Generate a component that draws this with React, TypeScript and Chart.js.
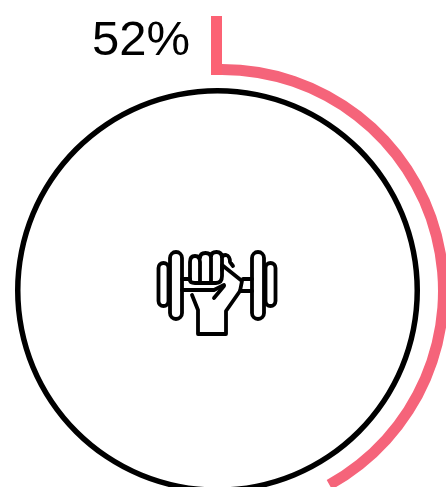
import { useEffect, useRef } from "react";
import { Chart, registerables } from "chart.js";

Chart.register(...registerables);

const progressLabel = "52%";
const progressValues = [52, 48];
const ringValues = [100];
const pink = "#F5647A";
const stubPink = "#FC6274";

const stubPlugin = {
  id: "stub",
  afterDatasetsDraw(chart: any) {
    const arc = chart.getDatasetMeta(0).data[0];
    if (!arc) return;
    const { ctx } = chart;
    ctx.save();
    ctx.fillStyle = stubPink;
    ctx.fillRect(arc.x - 11, 16, 11, arc.y - arc.innerRadius - 16);
    ctx.restore();
  },
};

export default function App() {
  const arcRef = useRef<HTMLCanvasElement>(null);
  const ringRef = useRef<HTMLCanvasElement>(null);
  useEffect(() => {
    const arcChart = new Chart(arcRef.current!, {
      type: "doughnut",
      data: {
        labels: ["Progress", "Remaining"],
        datasets: [
          {
            data: progressValues,
            backgroundColor: [pink, "rgba(0,0,0,0)"],
            borderWidth: 0,
          },
        ],
      } as any,
      options: {
        responsive: false,
        animation: false,
        circumference: 290.4,
        cutout: `${(216 / 227) * 100}%`,
        plugins: { legend: { display: false }, tooltip: { enabled: false } },
      } as any,
      plugins: [stubPlugin],
    });
    const ringChart = new Chart(ringRef.current!, {
      type: "doughnut",
      data: {
        labels: ["Ring"],
        datasets: [{ data: ringValues, backgroundColor: ["#000000"], borderWidth: 0 }],
      } as any,
      options: {
        responsive: false,
        animation: false,
        cutout: `${(197 / 202.5) * 100}%`,
        plugins: { legend: { display: false }, tooltip: { enabled: false } },
      } as any,
    });
    return () => {
      arcChart.destroy();
      ringChart.destroy();
    };
  }, []);

  return (
    <div style={{ position: "fixed", inset: 0, overflow: "hidden", background: "#fff" }}>
      <canvas ref={arcRef} width={454} height={582} style={{ position: "absolute", left: -5, top: 0 }} />
      <canvas ref={ringRef} width={405} height={405} style={{ position: "absolute", left: 15, top: 88 }} />
      <div
        style={{
          position: "absolute",
          left: 92,
          top: 10,
          fontFamily: '"Liberation Sans", sans-serif',
          fontSize: 49,
          lineHeight: "56px",
          color: "#000",
        }}
      >
        {progressLabel}
      </div>
      <svg
        width={446}
        height={487}
        style={{ position: "absolute", left: 0, top: 0, filter: "blur(0.4px)" }}
        fill="none"
        stroke="#000"
        strokeWidth={3.8}
        strokeLinejoin="round"
        strokeLinecap="round"
      >
        <rect x={158.5} y={263} width={10} height={43} rx={5} />
        <rect x={170} y={252} width={12} height={67} rx={6} />
        <rect x={252} y={252} width={12} height={67} rx={6} />
        <rect x={265.5} y={263} width={10} height={43} rx={5} />
        <path d="M182 279 H190 M182 290 H214 L224 285 M243 279 H252 M240 291 H252" />
        <path d="M190 280 V262 Q190 256 195 256 Q200 256 200 262 V283 M200 258 Q200 253 205.5 253 Q211 253 211 258 V283 M211 257 Q211 252 216.5 252 Q222 252 222 258 V270 M222 258 Q222 255 226 255 Q230 256 230 262 L233 266" />
        <path d="M190 280 Q190 283 195 283 H216 Q222 283 222 276 V265 L242 281 L240 291 L226 311 V334 H198 V310 L192 295 M214 298 L224 286" />
      </svg>
    </div>
  );
}
